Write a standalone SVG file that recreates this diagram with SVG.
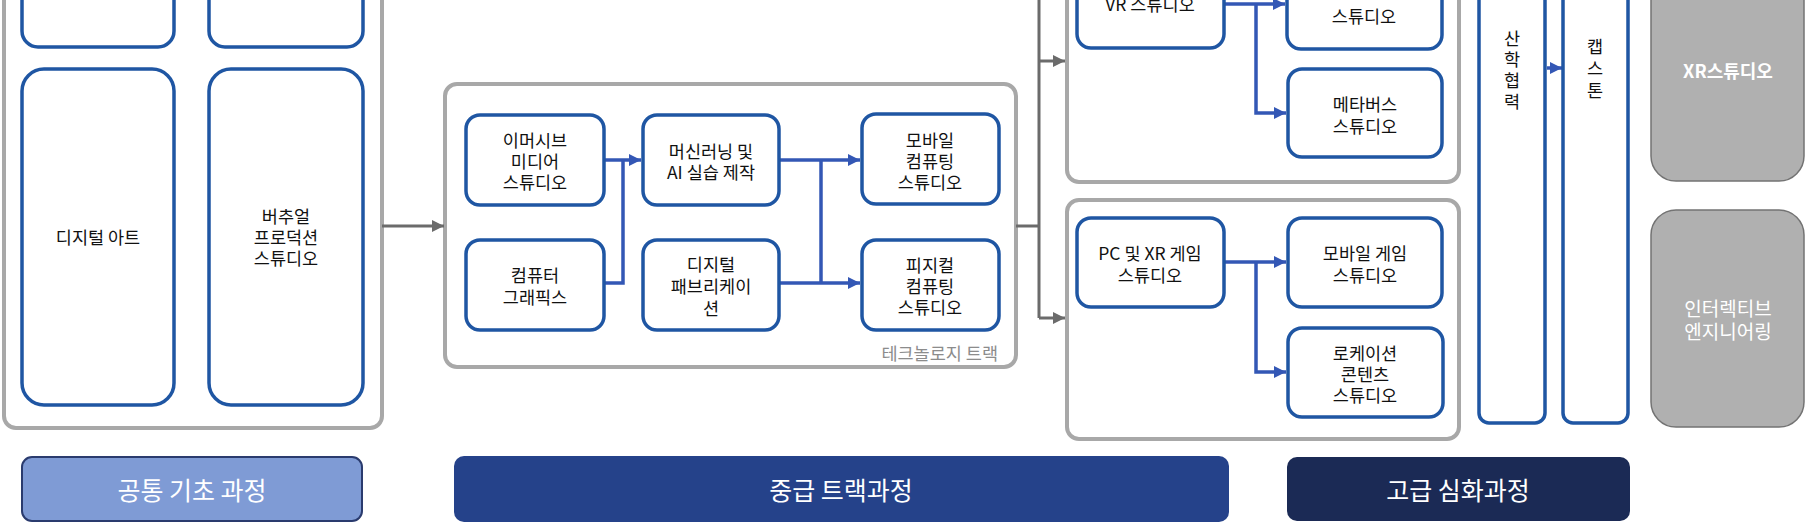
<svg xmlns="http://www.w3.org/2000/svg" width="1815" height="528" viewBox="0 0 1815 528">
<style>
.grp{fill:#fff;stroke:#a8a8a8;stroke-width:4}
.node{fill:#fff;stroke:#1f56a3;stroke-width:3.5}
.xr{fill:#b0b0b0;stroke:#737373;stroke-width:1.5}
.t{font-family:"Noto Sans CJK KR","Noto Sans",sans-serif;font-size:17.5px;fill:#111;text-anchor:middle;dominant-baseline:central}
.w{fill:#fff}
.bar{font-family:"Noto Sans CJK KR","Noto Sans",sans-serif;font-size:25px;fill:#fff;text-anchor:middle;dominant-baseline:central}
.bc{stroke:#3357b5;stroke-width:3.5;fill:none}
.gc{stroke:#6b6b6b;stroke-width:3;fill:none}
</style>
<defs>
<marker id="ab" markerUnits="userSpaceOnUse" markerWidth="14" markerHeight="14" refX="12" refY="6" orient="auto"><path d="M0,0 L12,6 L0,12 z" fill="#3357b5"/></marker>
<marker id="ag" markerUnits="userSpaceOnUse" markerWidth="14" markerHeight="14" refX="12" refY="6" orient="auto"><path d="M0,0 L12,6 L0,12 z" fill="#6b6b6b"/></marker>
</defs>
<rect width="1815" height="528" fill="#fff"/>

<g id="group-foundation"><rect class="grp" x="4" y="-30" width="378" height="458" rx="12"/></g>
<g id="group-tech"><rect class="grp" x="445" y="84" width="571" height="283" rx="12"/>
<text class="t" x="998" y="352" style="text-anchor:end;fill:#8c8c8c">테크놀로지 트랙</text></g>
<g id="group-vr"><rect class="grp" x="1067" y="-30" width="392" height="212" rx="12"/></g>
<g id="group-game"><rect class="grp" x="1067" y="200" width="392" height="239" rx="12"/></g>

<g id="connectors">
<path class="gc" d="M382,226 H444" marker-end="url(#ag)"/>
<path class="bc" d="M604,160 H641" marker-end="url(#ab)"/>
<path class="bc" d="M604,283 H623 V160"/>
<path class="bc" d="M779,160 H860" marker-end="url(#ab)"/>
<path class="bc" d="M779,283 H860" marker-end="url(#ab)"/>
<path class="bc" d="M821,160 V283"/>
<path class="gc" d="M1016,226 H1039"/>
<path class="gc" d="M1039,-5 V318"/>
<path class="gc" d="M1039,61 H1065" marker-end="url(#ag)"/>
<path class="gc" d="M1039,318 H1065" marker-end="url(#ag)"/>
<path class="bc" d="M1224,4 H1285" marker-end="url(#ab)"/>
<path class="bc" d="M1256,4 V113 H1286" marker-end="url(#ab)"/>
<path class="bc" d="M1224,262 H1286" marker-end="url(#ab)"/>
<path class="bc" d="M1256,262 V372 H1286" marker-end="url(#ab)"/>
<path class="bc" d="M1547,68 H1562" marker-end="url(#ab)"/>
</g>

<g id="node-top-left"><rect class="node" x="22" y="-60" width="152" height="107" rx="16"/></g>
<g id="node-top-right"><rect class="node" x="209" y="-60" width="154" height="107" rx="16"/></g>
<g id="node-digital-art"><rect class="node" x="22" y="69" width="152" height="336" rx="22"/>
<text class="t" x="98" y="236">디지털 아트</text></g>
<g id="node-virtual-production"><rect class="node" x="209" y="69" width="154" height="336" rx="22"/>
<text class="t" x="286" y="215">버추얼<tspan x="286" dy="21">프로덕션</tspan><tspan x="286" dy="21">스튜디오</tspan></text></g>

<g id="node-immersive"><rect class="node" x="466" y="115" width="138" height="90" rx="14"/>
<text class="t" x="535" y="139">이머시브<tspan x="535" dy="21">미디어</tspan><tspan x="535" dy="21">스튜디오</tspan></text></g>
<g id="node-cg"><rect class="node" x="466" y="240" width="138" height="90" rx="14"/>
<text class="t" x="535" y="274">컴퓨터<tspan x="535" dy="22">그래픽스</tspan></text></g>
<g id="node-ml"><rect class="node" x="643" y="115" width="136" height="90" rx="14"/>
<text class="t" x="711" y="150">머신러닝 및<tspan x="711" dy="21">AI 실습 제작</tspan></text></g>
<g id="node-fab"><rect class="node" x="643" y="240" width="136" height="90" rx="14"/>
<text class="t" x="711" y="263">디지털<tspan x="711" dy="22">패브리케이</tspan><tspan x="711" dy="22">션</tspan></text></g>
<g id="node-mobile-computing"><rect class="node" x="862" y="114" width="137" height="90" rx="14"/>
<text class="t" x="930" y="139">모바일<tspan x="930" dy="21">컴퓨팅</tspan><tspan x="930" dy="21">스튜디오</tspan></text></g>
<g id="node-physical-computing"><rect class="node" x="862" y="240" width="137" height="90" rx="14"/>
<text class="t" x="930" y="264">피지컬<tspan x="930" dy="21">컴퓨팅</tspan><tspan x="930" dy="21">스튜디오</tspan></text></g>

<g id="node-vr"><rect class="node" x="1077" y="-50" width="147" height="98" rx="14"/>
<text class="t" x="1150" y="3">VR 스튜디오</text></g>
<g id="node-vr-next"><rect class="node" x="1287" y="-50" width="155" height="99" rx="14"/>
<text class="t" x="1364" y="15">스튜디오</text></g>
<g id="node-metaverse"><rect class="node" x="1288" y="69" width="154" height="88" rx="14"/>
<text class="t" x="1365" y="103">메타버스<tspan x="1365" dy="22">스튜디오</tspan></text></g>
<g id="node-pcxr"><rect class="node" x="1077" y="218" width="147" height="89" rx="14"/>
<text class="t" x="1150" y="252">PC 및 XR 게임<tspan x="1150" dy="22">스튜디오</tspan></text></g>
<g id="node-mobile-game"><rect class="node" x="1288" y="218" width="154" height="89" rx="14"/>
<text class="t" x="1365" y="252">모바일 게임<tspan x="1365" dy="22">스튜디오</tspan></text></g>
<g id="node-location"><rect class="node" x="1288" y="328" width="155" height="89" rx="14"/>
<text class="t" x="1365" y="352">로케이션<tspan x="1365" dy="21">콘텐츠</tspan><tspan x="1365" dy="21">스튜디오</tspan></text></g>

<g id="node-industry"><rect class="node" x="1479" y="-30" width="66" height="453" rx="10"/>
<text class="t" x="1512" y="37">산<tspan x="1512" dy="21">학</tspan><tspan x="1512" dy="21">협</tspan><tspan x="1512" dy="21">력</tspan></text></g>
<g id="node-capstone"><rect class="node" x="1563" y="-30" width="65" height="453" rx="10"/>
<text class="t" x="1595" y="45">캡<tspan x="1595" dy="22">스</tspan><tspan x="1595" dy="22">톤</tspan></text></g>

<g id="node-xr-studio"><rect class="xr" x="1651" y="-40" width="153" height="221" rx="25"/>
<text class="t w" x="1728" y="70" style="font-weight:bold;font-size:18px">XR스튜디오</text></g>
<g id="node-interactive"><rect class="xr" x="1651" y="210" width="153" height="217" rx="25"/>
<text class="t w" x="1728" y="307" style="font-size:19px">인터렉티브<tspan x="1728" dy="23">엔지니어링</tspan></text></g>

<g id="bar-basic"><rect x="22" y="457" width="340" height="64" rx="10" fill="#7f9bd5" stroke="#2a3b6e" stroke-width="2"/>
<text class="bar" x="192" y="489">공통 기초 과정</text></g>
<g id="bar-intermediate"><rect x="454" y="456" width="775" height="66" rx="10" fill="#25428a"/>
<text class="bar" x="841" y="489">중급 트랙과정</text></g>
<g id="bar-advanced"><rect x="1287" y="457" width="343" height="64" rx="10" fill="#1b2a55"/>
<text class="bar" x="1458" y="489">고급 심화과정</text></g>
</svg>
